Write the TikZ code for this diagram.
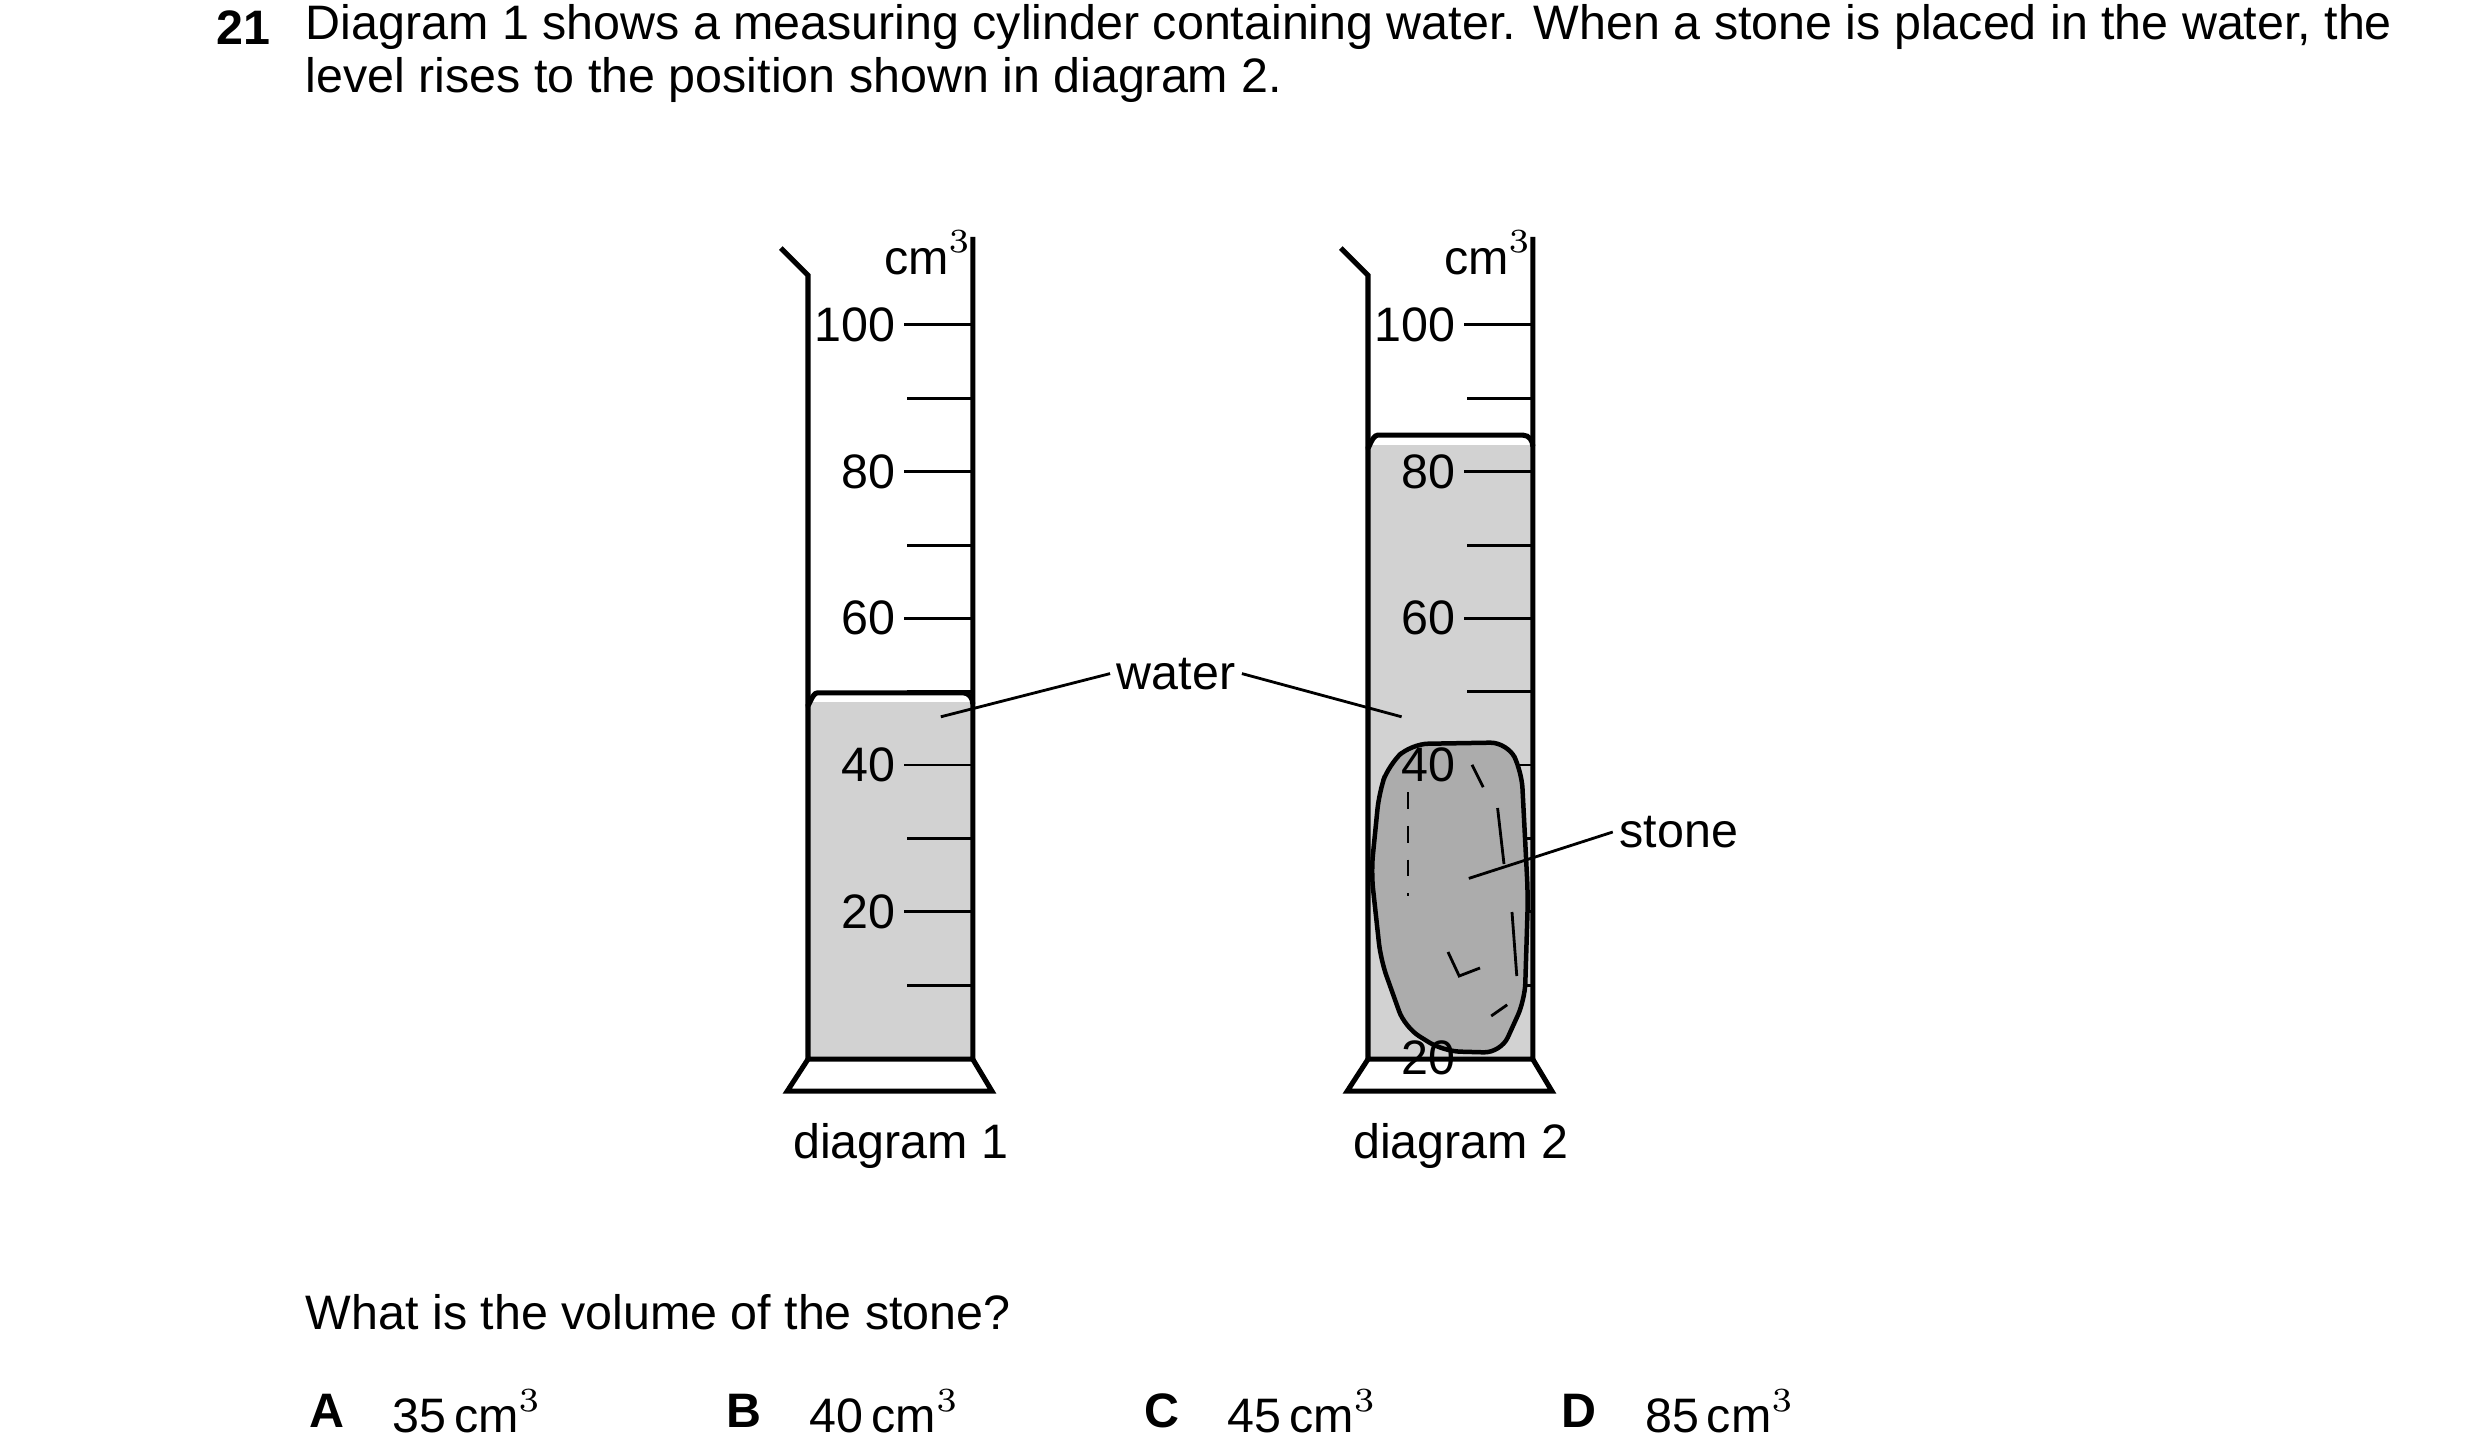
\documentclass[tikz,border=0pt]{standalone}
\usepackage{fontspec}
\setmainfont{Liberation Sans}
\usetikzlibrary{calc}
\begin{document}
\begin{tikzpicture}[x=0.01cm,y=-0.01cm,every node/.style={font=\fontsize{8.6}{10}\selectfont,inner sep=1pt},
  wall/.style={line width=0.9pt},tick/.style={line width=0.5pt}]
\useasboundingbox (0,0) rectangle (1550,906);

\node[anchor=west,font=\fontsize{8.6}{10}\selectfont\bfseries] (num) at (131,17) {21};
\node[anchor=west] (q1) at (187,17) {Diagram 1 shows a measuring cylinder containing water. When a stone is placed in the water, the};
\node[anchor=west] (q2) at (187,50) {level rises to the position shown in diagram 2.};

% cylinders
\foreach \dx/\lev/\name in {0/433/diagram 1,350/272/diagram 2}{
\begin{scope}[xshift=\dx*0.01cm]
\fill[gray!35] (505,\lev+6) -- (505,662) -- (608,662) -- (608,\lev+6) -- cycle;
\draw[wall] (505,\lev+7) to[out=-90,in=180] (511,\lev) -- (602,\lev) to[out=0,in=90] (608,\lev+7);
\draw[wall] (488,155) -- (505,172) -- (505,662) -- (608,662) -- (608,148);
\draw[wall] (505,662) -- (492,682) -- (620,682) -- (608,662);
\foreach \v [count=\i from 0] in {100,80,60,40,20}{
  \draw[tick] (565,203+91.7*\i) -- (608,203+91.7*\i);
  \draw[tick] (567,249+91.7*\i) -- (608,249+91.7*\i);
  \node[anchor=east] at (564,203+91.7*\i) {\v};
}
\node at (580,158) {cm$^3$};
\node at (563,716) {\name};
\end{scope}}

% stone
\draw[line width=0.8pt,fill=gray!65,rounded corners=3pt] (868,478) -- (882,465) -- (942,464) -- (951,482) -- (955,560) -- (953,625) -- (938,658) -- (902,657) -- (878,642) -- (863,600) -- (857,545) -- (862,495) -- cycle;
\draw[tick,dashed] (880,495) -- (880,560);
\draw[tick] (920,478) -- (927,492);
\draw[tick] (936,505) -- (940,540);
\draw[tick] (945,570) -- (948,610);
\draw[tick] (905,595) -- (912,610) -- (925,605);
\draw[tick] (932,635) -- (942,628);
\foreach \v [count=\i from 0] in {40,20}{
  \node[anchor=east] at (914,478+183.4*\i) {\v};
}

% labels
\node (water) at (735,421) {water};
\coordinate (w1) at (588,448);
\coordinate (w2) at (876,448);
\draw[tick] (w1) -- (water.west);
\draw[tick] (water.east) -- (w2);
\node[anchor=west] (stone) at (1008,520) {stone};
\coordinate (s1) at (918,549);
\draw[tick] (s1) -- (stone.west);

\node[anchor=west] (ask) at (187,820) {What is the volume of the stone?};
\foreach \l/\x/\v in {A/189/35,B/450/40,C/711/45,D/972/85}{
  \node[anchor=west,font=\fontsize{8.6}{10}\selectfont\bfseries] at (\x,882) {\l};
  \node[anchor=west] at (\x+52,882) {\v\,cm$^3$};
}
\end{tikzpicture}
\end{document}
